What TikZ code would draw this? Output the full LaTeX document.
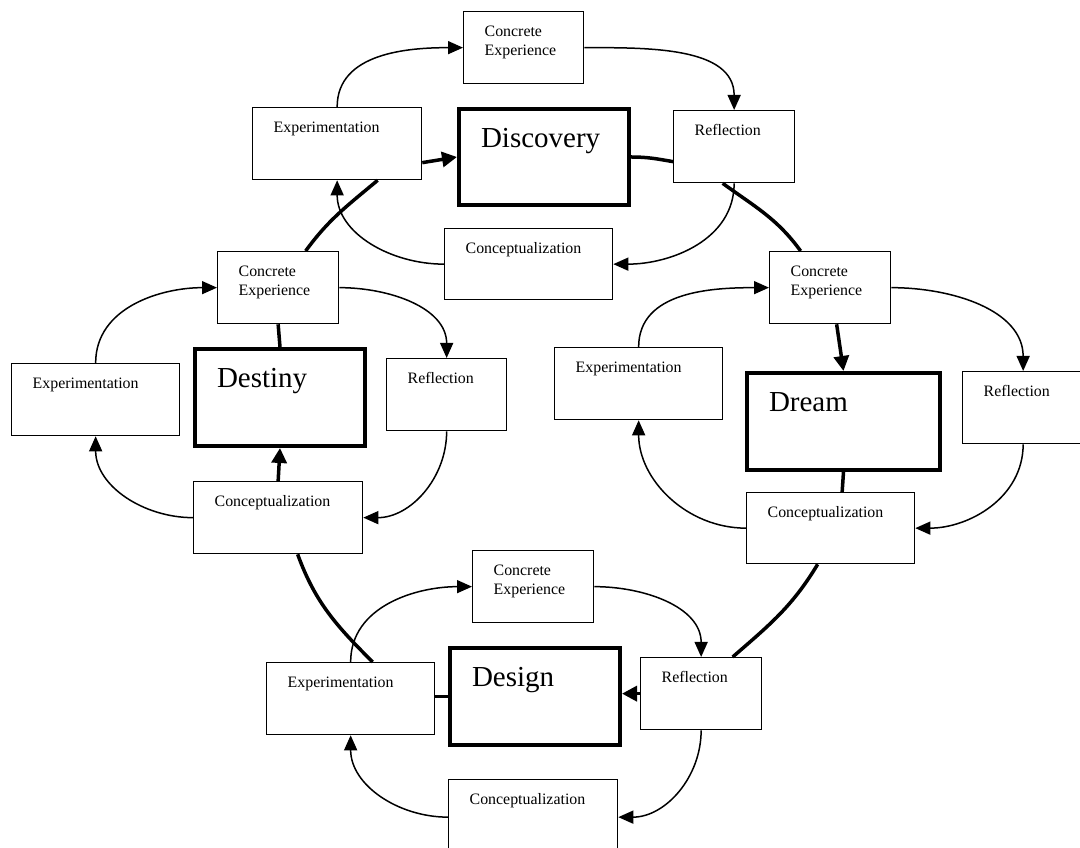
\documentclass[tikz,border=0pt]{standalone}
\usepackage{fontspec}
\setmainfont{Liberation Serif}
\usetikzlibrary{arrows.meta}

\newcommand{\stagefont}{\fontsize{15.9}{19}\selectfont}
\newcommand{\phasefont}{\fontsize{29}{33}\selectfont}

\tikzset{
  % small text box: text sits at the top left corner
  stage/.style n args={2}{draw, fill=white, line width=1.3pt, anchor=north west,
    inner xsep=21pt, inner ysep=0pt, align=left, text width=#1,
    text height=25pt, text depth=#2, font=\stagefont},
  % the four big phases of the cycle
  phase/.style n args={2}{stage={#1}{#2}, line width=4pt, inner xsep=22pt,
    text height=39pt, font=\phasefont},
  thinarr/.style={line width=1.5pt, -{Triangle[length=15pt,width=13pt]}},
  bigline/.style={line width=3.5pt},
  bigarr/.style={bigline, -{Triangle[length=15pt,width=15pt]}},
}

\begin{document}
\begin{tikzpicture}[x=1pt,y=1pt]
\fill[white] (0,0) rectangle (1080,847);
\useasboundingbox (0,0) rectangle (1080,847);

% ---- Discovery
\node[stage={78pt}{47pt}]  (tCE)   at (463,836) {Concrete\\Experience};
\node[stage={127pt}{47pt}] (tExp)  at (252,740) {Experimentation};
\node[phase={126pt}{57pt}] (tDisc) at (457,740) {Discovery};
\node[stage={79pt}{47pt}]  (tRefl) at (673,737) {Reflection};
\node[stage={126pt}{46pt}] (tCon)  at (444,619) {Conceptualization};

% ---- Destiny
\node[stage={79pt}{47pt}]  (lCE)   at (217,596) {Concrete\\Experience};
\node[stage={126pt}{47pt}] (lExp)  at (11,484)  {Experimentation};
\node[phase={126pt}{58pt}] (lDes)  at (193,500) {Destiny};
\node[stage={78pt}{47pt}]  (lRefl) at (386,489) {Reflection};
\node[stage={127pt}{47pt}] (lCon)  at (193,366) {Conceptualization};

% ---- Dream
\node[stage={79pt}{47pt}]  (rCE)   at (769,596) {Concrete\\Experience};
\node[stage={126pt}{47pt}] (rExp)  at (554,500) {Experimentation};
\node[phase={149pt}{58pt}] (rDrm)  at (745,476) {Dream};
\node[stage={79pt}{47pt}]  (rRefl) at (962,476) {Reflection};
\node[stage={126pt}{46pt}] (rCon)  at (746,355) {Conceptualization};

% ---- Design
\node[stage={79pt}{47pt}]  (bCE)   at (472,297) {Concrete\\Experience};
\node[stage={126pt}{47pt}] (bExp)  at (266,185) {Experimentation};
\node[phase={126pt}{58pt}] (bDes)  at (448,201) {Design};
\node[stage={79pt}{47pt}]  (bRefl) at (640,190) {Reflection};
\node[stage={127pt}{50pt}] (bCon)  at (448,68)  {Conceptualization};

% ---- learning cycles around each phase
\foreach \p in {t,l,r,b}{
  \draw[thinarr] (\p Exp.north)  to[out=90,in=180] (\p CE.west);
  \draw[thinarr] (\p CE.east)    to[out=0,in=90]   (\p Refl.north);
  \draw[thinarr] (\p Refl.south) to[out=-90,in=0]  (\p Con.east);
  \draw[thinarr] (\p Con.west)   to[out=180,in=-90] (\p Exp.south);
}

% ---- the large cycle linking the four phases
\draw[bigline] ([xshift=27.5pt]lCE.north) to[out=54,in=220] ([xshift=40.5pt]tExp.south);
\draw[bigarr]  ([yshift=-19pt]tExp.east) -- (tDisc.west);
\draw[bigline] (tDisc.east) to[out=0,in=170] ([yshift=-15pt]tRefl.west);
\draw[bigline] ([xshift=-11.5pt]tRefl.south) to[out=-36,in=126] ([xshift=-29.5pt]rCE.north);
\draw[bigarr]  ([xshift=6.5pt]rCE.south) -- (rDrm.north);
\draw[bigline] (rDrm.south) -- ([xshift=11.5pt]rCon.north);
\draw[bigline] ([xshift=-13pt]rCon.south) to[out=-121,in=41] ([xshift=31.5pt]bRefl.north);
\draw[bigarr]  (bRefl.west) -- (bRefl.west -| bDes.east);
\draw[bigline] (bDes.west) -- (bDes.west -| bExp.east);
\draw[bigline] ([xshift=22pt]bExp.north) to[out=135,in=-70] ([xshift=19.5pt]lCon.south);
\draw[bigarr]  (lCon.north) -- (lDes.south);
\draw[bigline] (lDes.north) -- (lCE.south);
\end{tikzpicture}
\end{document}
